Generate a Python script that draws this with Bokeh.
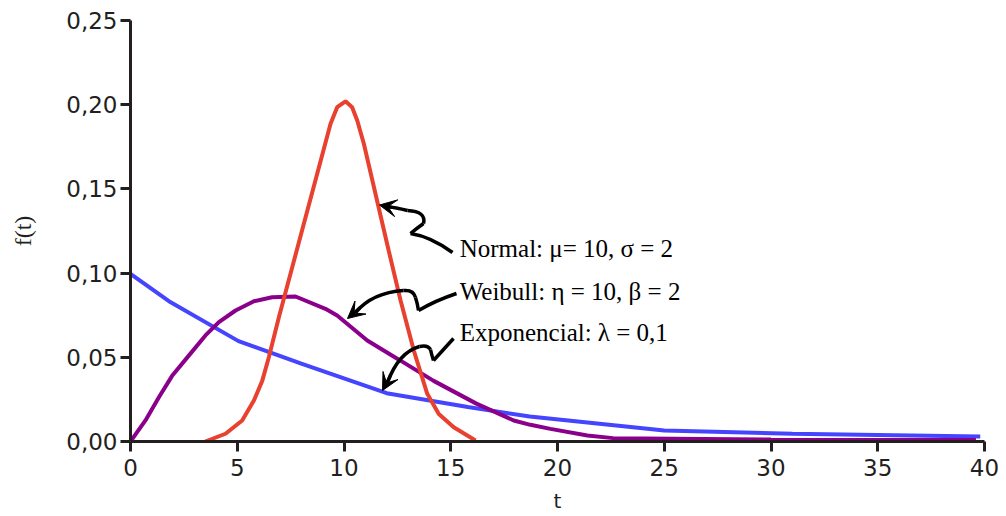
from bokeh.plotting import figure
from bokeh.models import Range1d, CustomJSTickFormatter, FixedTicker, Arrow, VeeHead
from bokeh.core.properties import value
from bokeh.embed import file_html
from bokeh.resources import INLINE

# ---- data ----
normal_t = [3.5, 4.45, 5.23, 5.78, 6.17, 6.48, 6.95, 9.37, 9.68, 10.07, 10.38, 10.62, 10.93,
            12.1, 12.65, 13.27, 13.9, 14.44, 15.14, 16.16]
normal_f = [0.0, 0.0046, 0.0125, 0.0243, 0.036, 0.050, 0.0738, 0.1887, 0.1985, 0.202, 0.1985,
            0.1906, 0.1768, 0.113, 0.0837, 0.054, 0.0283, 0.0164, 0.0085, 0.0006]

weibull_t = [0.0, 0.7, 1.33, 1.95, 2.73, 3.51, 4.14, 4.92, 5.78, 6.63, 7.73, 9.13, 9.68,
             11.09, 12.65, 14.2, 16.2, 17.95, 18.73, 19.67, 21.4, 22.6, 30.0, 39.6]
weibull_f = [0.0, 0.0125, 0.0263, 0.039, 0.051, 0.063, 0.0709, 0.0778, 0.0833, 0.0857, 0.0861,
             0.0788, 0.0748, 0.060, 0.048, 0.036, 0.0225, 0.0125, 0.0099, 0.0075, 0.0036,
             0.002, 0.0012, 0.0009]

expo_t = [0.0, 1.8, 5.06, 8.0, 12.0, 15.8, 18.7, 25.0, 31.0, 39.8]
expo_f = [0.0995, 0.0833, 0.0596, 0.0462, 0.0287, 0.0205, 0.0148, 0.0065, 0.0046, 0.003]

x_ticks = [0, 5, 10, 15, 20, 25, 30, 35, 40]
y_ticks = [0.0, 0.05, 0.10, 0.15, 0.20, 0.25]

labels = ["Normal: \u03bc= 10, \u03c3 = 2", "Weibull: \u03b7 = 10, \u03b2 = 2", "Exponencial: \u03bb = 0,1"]
label_x = [15.42, 15.42, 15.42]
label_y = [0.1145, 0.089, 0.0645]

RED = "#e8412f"
PURPLE = "#8b008b"
BLUE = "#4545ff"
AX = "#231f20"

p = figure(width=1000, height=516, output_backend="svg", toolbar_location=None,
           x_range=Range1d(0, 40), y_range=Range1d(0, 0.25),
           min_border_left=130, min_border_right=16, min_border_top=20, min_border_bottom=75)
p.outline_line_color = None
p.xgrid.visible = False
p.ygrid.visible = False
p.background_fill_color = "white"

for ax in (p.xaxis[0], p.yaxis[0]):
    ax.axis_line_width = 3
    ax.axis_line_color = AX
    ax.major_tick_line_width = 3
    ax.major_tick_line_color = AX
    ax.major_tick_out = 10
    ax.major_tick_in = 0
    ax.minor_tick_line_color = None
    ax.major_label_text_font = "DejaVu Sans"
    ax.major_label_text_font_size = "23px"
    ax.major_label_text_color = AX

p.xaxis.ticker = FixedTicker(ticks=x_ticks)
p.yaxis.ticker = FixedTicker(ticks=y_ticks)
p.yaxis.formatter = CustomJSTickFormatter(code="return tick.toFixed(2).replace('.', ',');")
p.xaxis.major_label_standoff = 7
p.yaxis.major_label_standoff = 3

p.xaxis.axis_label = "t"
p.xaxis.axis_label_text_font = "DejaVu Sans"
p.xaxis.axis_label_text_font_style = "normal"
p.xaxis.axis_label_text_font_size = "20px"
p.xaxis.axis_label_text_color = AX
p.xaxis.axis_label_standoff = 10

p.yaxis.axis_label = "f(t)"
p.yaxis.axis_label_text_font = "Liberation Serif"
p.yaxis.axis_label_text_font_style = "normal"
p.yaxis.axis_label_text_font_size = "24px"
p.yaxis.axis_label_text_color = AX
p.yaxis.axis_label_standoff = 27

p.line(expo_t, expo_f, line_color=BLUE, line_width=4)
p.line(weibull_t, weibull_f, line_color=PURPLE, line_width=4)
p.line(normal_t, normal_f, line_color=RED, line_width=4)

p.text(label_x, label_y, text=labels, text_font=value("Liberation Serif"),
       text_font_size="25px", text_color="black", text_baseline="alphabetic", text_align="left")

# ---- wavy annotation arrows (page pixel waypoints -> data units) ----
def d(xp, yp):
    return ((xp - 130) / 21.35, (441 - yp) / 1684.0)

arrows = [
    # segments (start, ctrl, end), head (from, to)
    ([((452, 252), (430, 236), (410, 233)),
      ((410, 233), (416, 228), (423, 223)),
      ((423, 223), (426, 211), (407, 210)),
      ((407, 210), (395, 207), (386, 206))],
     ((392, 207), (379, 204.5))),
    ([((456, 293), (435, 300), (418, 310)),
      ((418, 310), (417, 303), (415, 297)),
      ((415, 297), (413, 289), (403, 290)),
      ((403, 290), (372, 292), (355, 312))],
     ((360, 307), (347, 318))),
    ([((453, 338), (443, 349), (433, 360)),
      ((433, 360), (431, 354), (430, 349)),
      ((430, 349), (427, 344), (419, 346)),
      ((419, 346), (398, 352), (387, 382))],
     ((390, 375), (382, 390))),
]

for segs, head in arrows:
    x0, y0, x1, y1, cx, cy = [], [], [], [], [], []
    for s, c, e in segs:
        a, b, m = d(*s), d(*e), d(*c)
        x0.append(a[0]); y0.append(a[1]); x1.append(b[0]); y1.append(b[1])
        cx.append(m[0]); cy.append(m[1])
    p.quadratic(x0=x0, y0=y0, x1=x1, y1=y1, cx=cx, cy=cy, line_color="black", line_width=3.5)
    hs, he = d(*head[0]), d(*head[1])
    p.add_layout(Arrow(end=VeeHead(size=17, fill_color="black", line_color="black", line_width=1),
                       x_start=hs[0], y_start=hs[1], x_end=he[0], y_end=he[1],
                       line_color="black", line_width=3))

open("out.html", "w").write(file_html(p, INLINE))
